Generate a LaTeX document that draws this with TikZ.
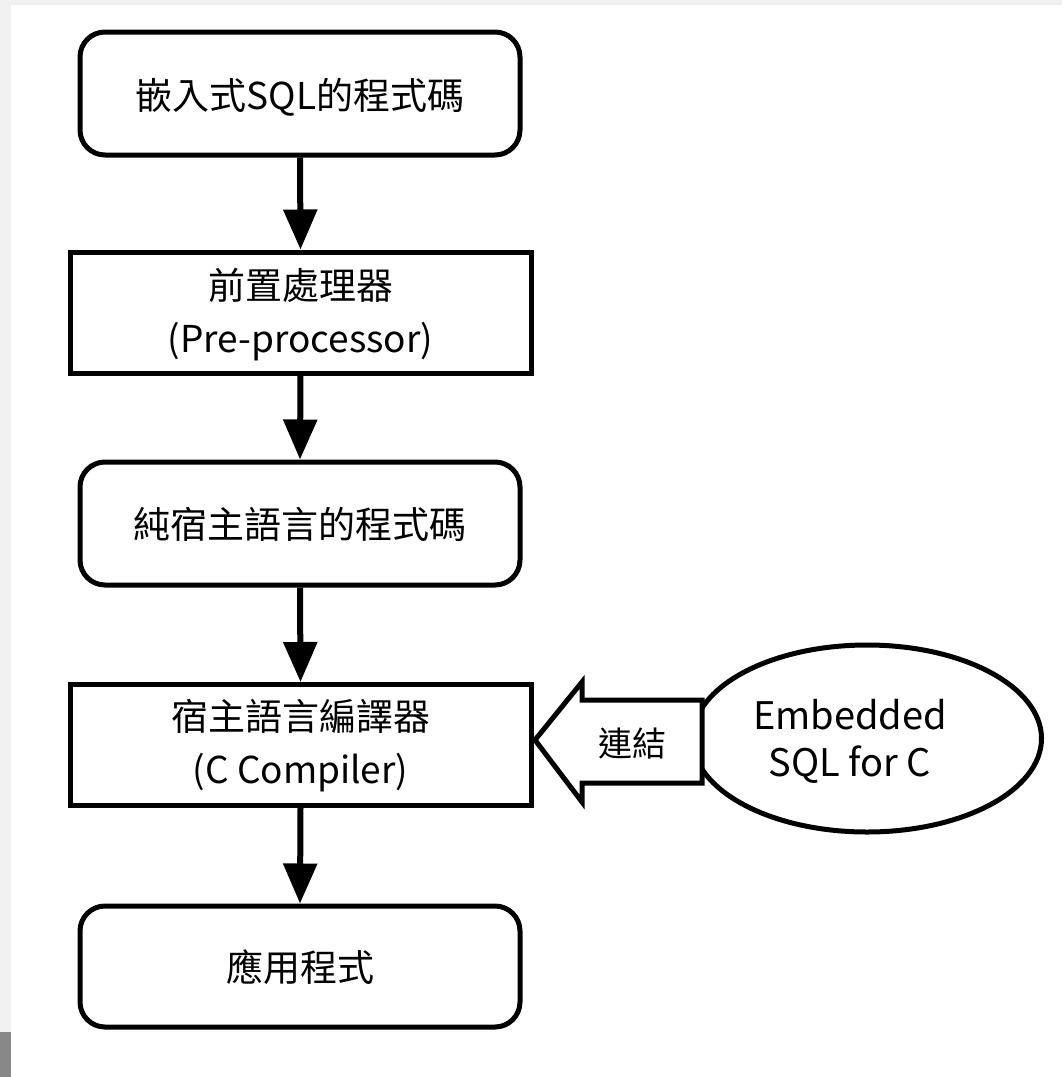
\documentclass[tikz,border=0pt]{standalone}
\usepackage{fontspec}
\setmainfont{Noto Sans CJK TC}
\usetikzlibrary{arrows.meta,shapes.geometric,calc}
\definecolor{bggray}{HTML}{F0F0F0}
\definecolor{darkgray}{HTML}{888888}
\begin{document}
\begin{tikzpicture}[x=1pt,y=-1pt,
  roundbox/.style={draw=black,line width=5pt,rounded corners=25pt,minimum width=440pt,minimum height=123pt,inner sep=0pt},
  rectbox/.style={draw=black,line width=5pt,minimum width=461pt,minimum height=121pt,inner sep=0pt},
  boxtext/.style={align=center,font=\fontsize{37}{53}\selectfont,inner sep=0pt},
  flow/.style={line width=6pt,-{Triangle[length=40pt,width=33pt]}}]
% background and margins
\fill[bggray] (0,0) rectangle (1062,1077);
\fill[white] (11,5) rectangle (1062,1077);
\fill[darkgray] (0,1032) rectangle (11,1077);
\useasboundingbox (0,0) rectangle (1062,1077);
% boxes
\node[roundbox] (b1) at (300,93.5) {};
\node[boxtext] (t1) at (300,97) {嵌入式SQL的程式碼};
\node[rectbox] (b2) at (300.5,312.5) {};
\node[boxtext] (t2) at (300.5,315) {前置處理器\\(Pre-processor)};
\node[roundbox] (b3) at (300,523.5) {};
\node[boxtext] (t3) at (300,524) {純宿主語言的程式碼};
\node[rectbox] (b4) at (300.5,745) {};
\node[boxtext] (t4) at (300.5,746) {宿主語言編譯器\\(C Compiler)};
\node[roundbox,minimum height=121pt] (b5) at (300,966.5) {};
\node[boxtext] (t5) at (300,967) {應用程式};
% flow arrows
\draw[flow] (b1.south) -- (b2.north);
\draw[flow] (b2.south) -- (b3.north);
\draw[flow] (b3.south) -- (b4.north);
\draw[flow] (b4.south) -- (b5.north);
% ellipse
\node[ellipse,draw=black,line width=5pt,minimum width=349pt,minimum height=187pt,inner sep=0pt] (ell) at (867,738.5) {};
\node[align=center,font=\fontsize{38}{47}\selectfont,inner sep=0pt] (et) at (850,741) {Embedded\\SQL for C};
% block arrow
\draw[line width=5pt,fill=white,line join=miter,miter limit=10]
  (535,740) -- (582,682) -- (582,700) -- (702,700) -- (702,783) -- (582,783) -- (582,802) -- cycle;
\node[font=\fontsize{34}{40}\selectfont,inner sep=0pt] (link) at (632,744) {連結};
\end{tikzpicture}
\end{document}
